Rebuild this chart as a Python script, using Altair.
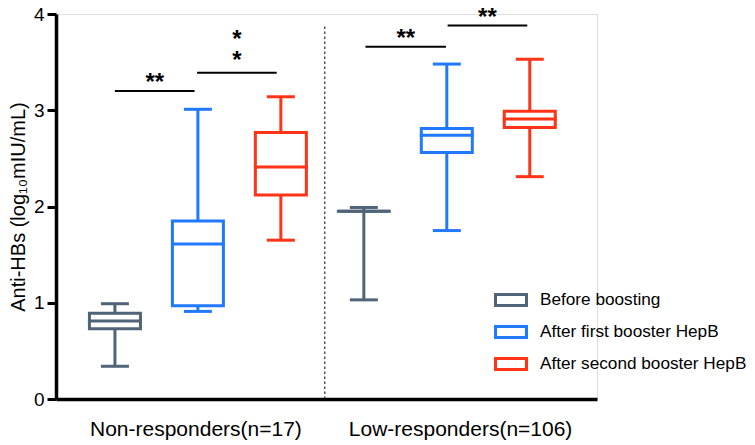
import altair as alt
import pandas as pd

# ---- data ----
groups = ["Non-responders(n=17)", "Low-responders(n=106)"]
group_label_pos = [0.97, 4.16]
series = ["Before boosting", "After first booster HepB", "After second booster HepB"]
colors = ["#4f6478", "#2079ff", "#ff3316"]

# box statistics, order: group 1 (3 series), group 2 (3 series)
mins = [0.34, 0.91, 1.65, 1.03, 1.75, 2.31]
q1s = [0.73, 0.97, 2.12, 1.95, 2.56, 2.82]
medians = [0.81, 1.61, 2.41, 1.95, 2.74, 2.91]
q3s = [0.89, 1.85, 2.77, 1.95, 2.81, 2.99]
maxs = [0.99, 3.01, 3.14, 1.99, 3.48, 3.53]

# significance bars (in box-slot units) and their labels
sig_start = [0.0, 0.99, 3.02, 4.01]
sig_end = [0.96, 1.95, 3.99, 4.97]
sig_y = [3.20, 3.39, 3.66, 3.88]
sig_text = ["**", "*\n*", "**", "**"]

divider_x = [2.53]
divider_top = [3.88]

y_ticks = [0, 1, 2, 3, 4]

# ---- tables ----
rows = []
for gi, g in enumerate(groups):
    for si, s in enumerate(series):
        k = gi * len(series) + si
        rows.append(dict(group=g, series=s, slot=k, lo=mins[k], q1=q1s[k],
                         med=medians[k], q3=q3s[k], hi=maxs[k]))
df = pd.DataFrame(rows)

sig = pd.DataFrame(dict(x1=sig_start, x2=sig_end, y=sig_y, label=sig_text))
sig["mid"] = (sig["x1"] + sig["x2"]) / 2
sig["nlines"] = [t.count("\n") + 1 for t in sig_text]
div = pd.DataFrame(dict(x=divider_x, bottom=[0] * len(divider_x), top=divider_top))

FONT = "Liberation Sans"
xscale = alt.Scale(domain=[-0.65, 5.75], nice=False, zero=False)
yscale = alt.Scale(domain=[0, 4], nice=False, zero=True)

label_expr = f"datum.value < 2.5 ? '{groups[0]}' : '{groups[1]}'"
xaxis = alt.Axis(values=group_label_pos, labelExpr=label_expr, title=None, ticks=False,
                 grid=False, domainWidth=3.5, domainColor="black",
                 labelFontSize=21, labelPadding=19, labelColor="black",
                 labelFont=FONT, labelLimit=0, labelOverlap=False)
yaxis = alt.Axis(values=y_ticks, title="Anti-HBs (log₁₀mIU/mL)", titleFontSize=20,
                 titleFontWeight="normal", titleColor="black", titlePadding=5,
                 titleFont=FONT, labelFont=FONT,
                 labelFontSize=19, labelColor="black", labelPadding=3,
                 tickSize=9, tickWidth=3, tickColor="black",
                 domainWidth=3.5, domainColor="black", grid=False)


def X(field):
    return alt.X(f"{field}:Q", scale=xscale, axis=xaxis)


def Y(field):
    return alt.Y(f"{field}:Q", scale=yscale, axis=yaxis)


cscale = alt.Scale(domain=series, range=colors)
legend = alt.Legend(orient="none", legendX=438, legendY=269, title=None,
                    symbolType="M-1,-0.36L1,-0.36L1,0.36L-1,0.36Z",
                    symbolSize=961, symbolStrokeWidth=3, symbolFillColor="white",
                    labelFontSize=17.2, labelFont=FONT, labelColor="black",
                    labelOffset=12, rowPadding=3, padding=0, labelLimit=0)
stroke_leg = alt.Stroke("series:N", scale=cscale, legend=legend, sort=series)
col = alt.Color("series:N", scale=cscale, sort=series, legend=None)

base = alt.Chart(df)
whisk_lo = base.mark_rule(strokeWidth=3).encode(x=X("slot"), y=Y("lo"), y2="q1:Q", color=col)
whisk_hi = base.mark_rule(strokeWidth=3).encode(x=X("slot"), y=Y("q3"), y2="hi:Q", color=col)
box = base.mark_bar(size=51, fill="white", strokeWidth=3).encode(
    x=X("slot"), y=Y("q1"), y2="q3:Q", stroke=stroke_leg)
med = base.mark_tick(orient="horizontal", size=54, thickness=3, opacity=1).encode(
    x=X("slot"), y=Y("med"), color=col)
cap_lo = base.mark_tick(orient="horizontal", size=28, thickness=3, opacity=1).encode(
    x=X("slot"), y=Y("lo"), color=col)
cap_hi = base.mark_tick(orient="horizontal", size=28, thickness=3, opacity=1).encode(
    x=X("slot"), y=Y("hi"), color=col)

sig_rules = alt.Chart(sig).mark_rule(strokeWidth=2, color="black").encode(
    x=X("x1"), x2="x2:Q", y=Y("y"))

LH = 21
star_kw = dict(font=FONT, fontWeight="bold", fontSize=24, baseline="bottom",
               lineBreak="\n", lineHeight=LH, color="black")
sig_labels_1 = alt.Chart(sig).transform_filter("datum.nlines == 1").mark_text(
    dy=4, **star_kw).encode(x=X("mid"), y=Y("y"), text="label:N")
sig_labels_2 = alt.Chart(sig).transform_filter("datum.nlines == 2").mark_text(
    dy=-LH, **star_kw).encode(x=X("mid"), y=Y("y"), text="label:N")

divider = alt.Chart(div).mark_rule(strokeWidth=1, strokeDash=[2.5, 2.5], color="black").encode(
    x=X("x"), y=Y("bottom"), y2="top:Q")

chart = alt.layer(divider, whisk_lo, whisk_hi, box, med, cap_lo, cap_hi,
                  sig_rules, sig_labels_1, sig_labels_2).resolve_scale(
    color="independent", stroke="independent"
).resolve_legend(color="independent", stroke="independent").properties(
    width=541, height=385,
    autosize=alt.AutoSizeParams(type="none"),
    padding={"left": 48, "top": 6, "right": 150, "bottom": 46},
).configure_view(stroke=None).configure(font=FONT)

chart.save("out.html", embed_options={"renderer": "svg", "actions": False})
